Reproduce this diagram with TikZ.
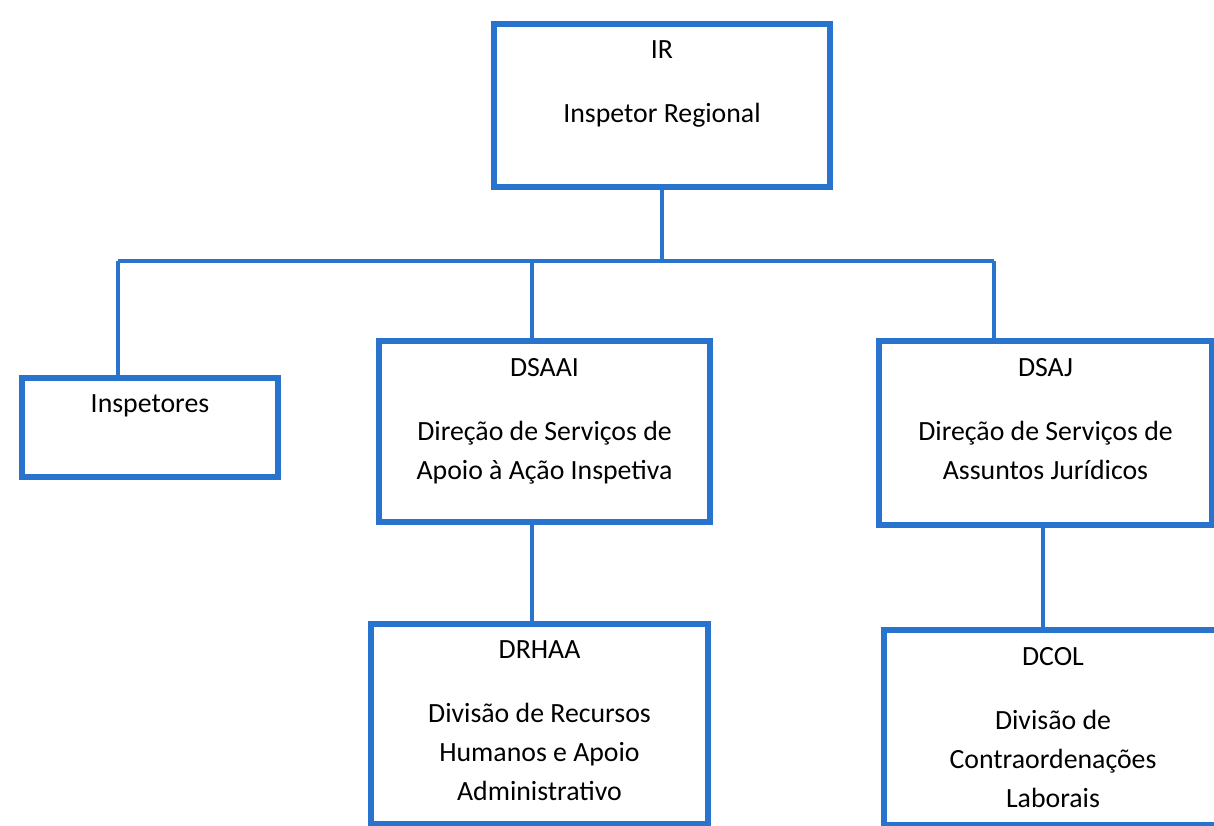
\documentclass[tikz,border=0pt]{standalone}
\usepackage{fontspec}
\setmainfont{Carlito}
\usepackage{xcolor}
\usepackage{tikz}
\usetikzlibrary{positioning, calc}

\definecolor{orgblue}{RGB}{40,115,205}

\begin{document}
\begin{tikzpicture}[
    x=1pt, y=-1pt,
    box/.style={rectangle, draw=orgblue, line width=6pt, fill=white, inner sep=0pt, anchor=north west,
      font=\fontsize{27.8}{39}\selectfont},
    line/.style={draw=orgblue, line width=4.5pt}
    ]
    \useasboundingbox (0,0) rectangle (1214,825);

    % topo
    \node[box] (ir) at (491,21) {\parbox[t][163pt][t]{336pt}{\centering\vspace*{17pt}IR\par\vspace{25pt}Inspetor Regional}};

    % segundo nivel
    \node[box] (insp) at (19,375) {\parbox[t][99pt][t]{256pt}{\centering\vspace*{17pt}Inspetores}};
    \node[box] (dsaai) at (376,338) {\parbox[t][181pt][t]{331pt}{\centering\vspace*{17pt}DSAAI\par\vspace{25pt}Direção de Serviços de\\Apoio à Ação Inspetiva}};
    \node[box] (dsaj) at (876,338) {\parbox[t][184pt][t]{333pt}{\centering\vspace*{17pt}DSAJ\par\vspace{25pt}Direção de Serviços de\\Assuntos Jurídicos}};

    % terceiro nivel
    \node[box] (drhaa) at (368,621) {\parbox[t][200pt][t]{337pt}{\centering\vspace*{17pt}DRHAA\par\vspace{25pt}Divisão de Recursos\\Humanos e Apoio\\Administrativo}};
    \node[box] (dcol) at (881,627) {\parbox[t][195pt][t]{338pt}{\centering\vspace*{17pt}DCOL\par\vspace{25pt}Divisão de\\Contraordenações\\Laborais}};

    % barramento
    \coordinate (busL) at (118,261);
    \coordinate (busR) at (994,261);
    \coordinate (tapA) at (532,261);
    \coordinate (tapB) at (1043,261);

    \draw[line] (ir.south) -- (ir.south |- busL);
    \draw[line] (busL) -- (busR);
    \draw[line] (busL) -- (busL |- insp.north);
    \draw[line] (tapA) -- (tapA |- dsaai.north);
    \draw[line] (busR) -- (busR |- dsaj.north);

    \draw[line] (tapA |- dsaai.south) -- (tapA |- drhaa.north);
    \draw[line] (tapB |- dsaj.south) -- (tapB |- dcol.north);

\end{tikzpicture}
\end{document}
